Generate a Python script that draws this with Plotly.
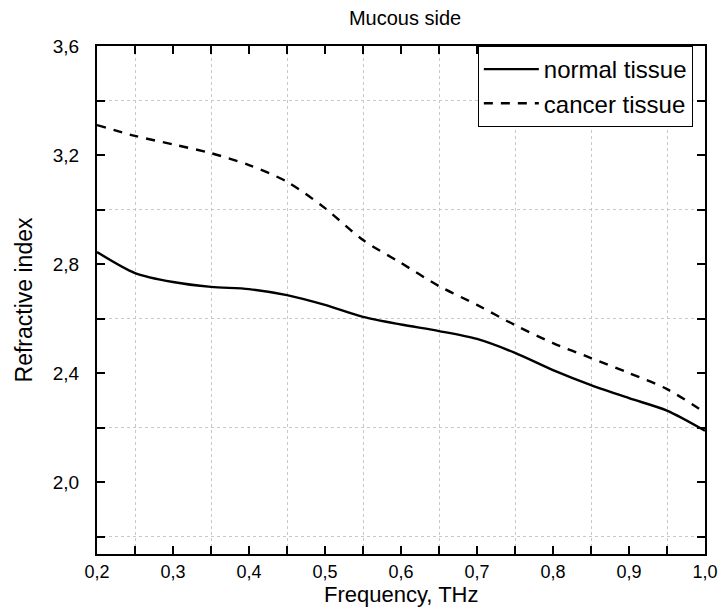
import plotly.graph_objects as go

freq = [0.20, 0.25, 0.30, 0.35, 0.40, 0.45, 0.50, 0.55, 0.60, 0.65, 0.70, 0.75, 0.80, 0.85, 0.90, 0.95, 1.00]
normal_tissue = [2.844, 2.767, 2.734, 2.716, 2.708, 2.686, 2.650, 2.606, 2.578, 2.554, 2.525, 2.474, 2.411, 2.356, 2.308, 2.262, 2.188]
cancer_tissue = [3.310, 3.270, 3.239, 3.207, 3.163, 3.102, 3.005, 2.888, 2.804, 2.719, 2.650, 2.576, 2.510, 2.455, 2.400, 2.341, 2.255]

title_text = "Mucous side"
x_title = "Frequency, THz"
y_title = "Refractive index"

FONT = "Liberation Sans, Arial, sans-serif"

fig = go.Figure()
fig.add_trace(go.Scatter(x=freq, y=normal_tissue, mode="lines", name="normal tissue",
                         line=dict(color="black", width=2.4, shape="spline", smoothing=0.8)))
fig.add_trace(go.Scatter(x=freq, y=cancer_tissue, mode="lines", name="cancer tissue",
                         line=dict(color="black", width=2.4, shape="spline", smoothing=0.8, dash="9px,8px")))

axis_common = dict(
    showline=True, linecolor="black", linewidth=2, mirror="allticks",
    ticks="inside", ticklen=8, tickwidth=1.5, tickcolor="black",
    showgrid=False, zeroline=False, automargin=False,
)

fig.update_xaxes(
    range=[0.2, 1.0], dtick=0.1, tick0=0.2, tickformat=".1f",
    ticklabelstandoff=0,
    tickfont=dict(family=FONT, size=18, color="black"),
    minor=dict(dtick=0.1, tick0=0.25, ticks="inside", ticklen=8, tickcolor="black", tickwidth=1.5,
               showgrid=True, gridcolor="#c8c8c8", griddash="dot", gridwidth=1),
    **axis_common,
)
fig.update_yaxes(
    range=[1.736, 3.6], dtick=0.4, tick0=2.0, tickformat=".1f",
    ticklabelstandoff=12,
    tickfont=dict(family=FONT, size=19, color="black"),
    title=dict(text=y_title, font=dict(family=FONT, size=23, color="black"), standoff=14),
    minor=dict(dtick=0.4, tick0=2.2, ticks="inside", ticklen=8, tickcolor="black", tickwidth=1.5,
               showgrid=True, gridcolor="#c8c8c8", griddash="dot", gridwidth=1),
    **axis_common,
)

fig.add_annotation(text=x_title, xref="paper", yref="paper", x=0.5, y=0,
                   xanchor="center", yanchor="top", yshift=-26, showarrow=False,
                   font=dict(family=FONT, size=22, color="black"))

fig.update_layout(
    width=722, height=609,
    margin=dict(l=97, r=17, t=46, b=55),
    paper_bgcolor="white", plot_bgcolor="white",
    separators=", ",
    title=dict(text=title_text, x=0.561, xanchor="center", y=0.97, yanchor="middle",
               font=dict(family=FONT, size=20, color="black")),
    legend=dict(x=0.98, xanchor="right", y=1.0, yanchor="top",
                bgcolor="white", bordercolor="black", borderwidth=1,
                font=dict(family=FONT, size=24, color="black"),
                tracegroupgap=0, itemwidth=55),
    showlegend=True,
)

fig.write_html("out.html", config={"displayModeBar": False},
               post_script="document.body.style.margin='0';document.body.style.padding='0';")
